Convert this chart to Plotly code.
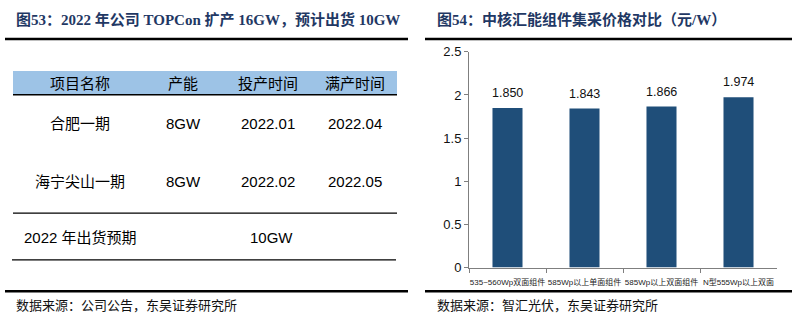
import plotly.graph_objects as go

W, H = 800, 328

# ---------------- data ----------------
left_title = "图53：2022 年公司 TOPCon 扩产 16GW，预计出货 10GW"
right_title = "图54：中核汇能组件集采价格对比（元/W）"
left_source = "数据来源：公司公告，东吴证券研究所"
right_source = "数据来源：智汇光伏，东吴证券研究所"

table_headers = ["项目名称", "产能", "投产时间", "满产时间"]
table_rows = [
    ["合肥一期", "8GW", "2022.01", "2022.04"],
    ["海宁尖山一期", "8GW", "2022.02", "2022.05"],
]
summary_label = "2022 年出货预期"
summary_value = "10GW"

categories = ["535~560Wp双面组件", "585Wp以上单面组件", "585Wp以上双面组件", "N型555Wp以上双面"]
prices = [1.850, 1.843, 1.866, 1.974]
price_labels = ["1.850", "1.843", "1.866", "1.974"]

# ---------------- helpers ----------------
def px(x):
    return x / W

def py(y):
    return 1 - y / H

NAVY = "#1f3864"
BAR = "#1f4e79"
SANS = "Liberation Sans, Arial, Noto Sans CJK SC"
SERIF = "Liberation Serif, Times New Roman, Noto Sans CJK SC"

fig = go.Figure()
fig.add_trace(go.Bar(
    x=categories, y=prices, marker=dict(color=BAR, line=dict(width=0)),
    hoverinfo="skip", showlegend=False,
))

shapes = []
annotations = []

def hline(x0, x1, y, width=1, color="#000"):
    shapes.append(dict(type="line", xref="paper", yref="paper",
                       x0=px(x0), x1=px(x1), y0=py(y), y1=py(y),
                       line=dict(color=color, width=width)))

def text(x, y, s, size=15, color="#000", family=SANS, xanchor="center", bold=False):
    annotations.append(dict(xref="paper", yref="paper", x=px(x), y=py(y), text=s,
                            showarrow=False, xanchor=xanchor, yanchor="middle",
                            font=dict(size=size, color=color, family=family,
                                      weight="bold" if bold else "normal")))

# titles
text(14, 13, left_title, size=15, color=NAVY, family=SERIF, xanchor="left", bold=True)
text(435, 13, right_title, size=15, color=NAVY, family=SERIF, xanchor="left", bold=True)
# thick rules
for (a, b) in [(5, 408), (425, 792)]:
    hline(a, b, 33.5, width=2.5)
    hline(a, b, 298, width=2.5)
# sources
text(14, 313, left_source, size=13, color="#111", family=SERIF, xanchor="left")
text(435, 313, right_source, size=13, color="#111", family=SERIF, xanchor="left")

# table
shapes.append(dict(type="rect", xref="paper", yref="paper",
                   x0=px(13), x1=px(397), y0=py(92), y1=py(67),
                   fillcolor="#9dc3e6", line=dict(width=0), layer="below"))
hline(13, 397, 92, width=1.5)
hline(13, 397, 216, width=1.2)
hline(12, 396, 265, width=1.2)
col_x = [80, 183, 268, 355]
for cx, h in zip(col_x, table_headers):
    text(cx, 80, h, size=15)
for ry, row in zip([122, 183], table_rows):
    for cx, v in zip(col_x, row):
        text(cx, ry, v, size=15)
text(22, 242, summary_label, size=15, xanchor="left")
text(271, 242, summary_value, size=15)

# bar value labels (data coordinates)
for c, v, lab in zip(categories, prices, price_labels):
    annotations.append(dict(xref="x", yref="y", x=c, y=v, text=lab, showarrow=False,
                            yanchor="bottom", yshift=6,
                            font=dict(size=12.5, color="#111", family=SANS)))

fig.update_layout(
    width=W, height=H, margin=dict(l=0, r=0, t=0, b=0),
    paper_bgcolor="white", plot_bgcolor="white",
    bargap=0.61,
    shapes=shapes, annotations=annotations,
    xaxis=dict(domain=[px(469), px(777)], showgrid=False, zeroline=False,
               showline=True, linecolor="#7f7f7f", linewidth=1,
               ticks="outside", ticklen=4, tickcolor="#7f7f7f", tickson="boundaries",
               tickangle=0, ticklabelstandoff=7,
               tickfont=dict(size=8, color="#222", family=SANS)),
    yaxis=dict(domain=[py(273), py(47)], range=[0, 2.5], dtick=0.5, showgrid=False,
               zeroline=False, showline=True, linecolor="#7f7f7f", linewidth=1,
               ticks="outside", ticklen=4, tickcolor="#7f7f7f",
               tickfont=dict(size=13, color="#111", family=SANS)),
)

fig.write_html("out.html")
